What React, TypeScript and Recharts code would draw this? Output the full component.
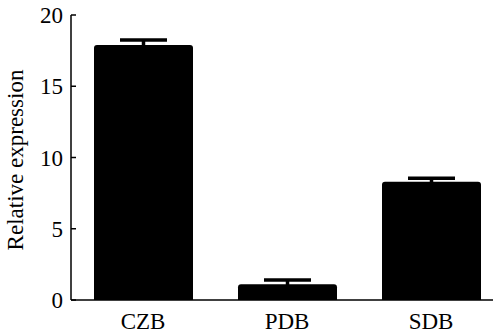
import { BarChart, Bar, XAxis, YAxis, ErrorBar } from "recharts"

const categories = ["CZB", "PDB", "SDB"]
const values = [17.9, 1.1, 8.3]
const errors = [0.35, 0.3, 0.25]
const yTicks = [0, 5, 10, 15, 20]

const data = categories.map((name, i) => ({ name, value: values[i], err: errors[i] }))

const font = "Liberation Serif, Times New Roman, serif"

// y ticks point inward, so draw them by hand
const YTick = (props: any) => {
  const { y, payload } = props
  return (
    <g>
      <line x1={71} y1={y} x2={76} y2={y} stroke="#000" strokeWidth={1.5} />
      <text x={63} y={y} dy={8} textAnchor="end" fontSize={23} fontFamily={font} fill="#000">
        {payload.value}
      </text>
    </g>
  )
}

const YLabel = () => (
  <text
    transform="translate(23,160) rotate(-90)"
    textAnchor="middle"
    fontSize={23}
    fontFamily={font}
    fill="#000"
  >
    Relative expression
  </text>
)

export default function App() {
  return (
    <div style={{ position: "fixed", left: 0, top: 0, width: 493, height: 333, overflow: "hidden", background: "#fff", fontFamily: font }}>
      <BarChart width={503} height={333} data={data} margin={{ top: 15, right: 0, bottom: 0, left: 0 }}>
        <XAxis
          dataKey="name"
          height={33}
          axisLine={{ stroke: "#000", strokeWidth: 1.5 }}
          tickLine={false}
          tick={{ fill: "#000", fontSize: 23, fontFamily: font }}
          tickMargin={7}
        />
        <YAxis
          width={71}
          domain={[0, 20]}
          ticks={yTicks}
          axisLine={{ stroke: "#000", strokeWidth: 1.5 }}
          tickLine={false}
          tick={<YTick />}
          label={<YLabel />}
        />
        <Bar dataKey="value" fill="#000" barSize={99} radius={[3, 3, 0, 0]} isAnimationActive={false}>
          <ErrorBar dataKey="err" width={23.5} stroke="#000" strokeWidth={3.5} direction="y" />
        </Bar>
      </BarChart>
    </div>
  )
}
